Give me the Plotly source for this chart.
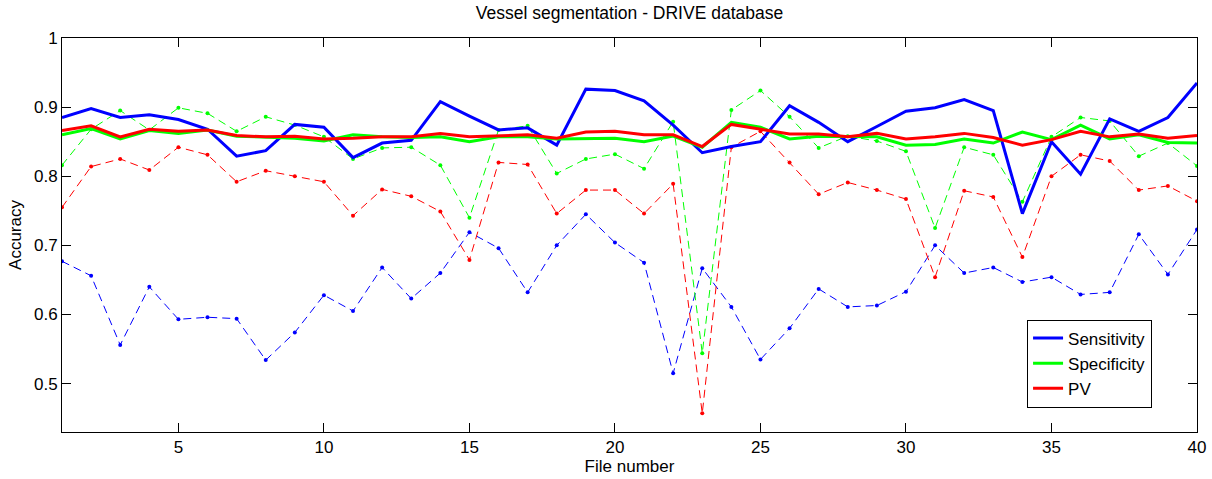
import plotly.graph_objects as go

file_number = list(range(1, 41))

sensitivity = [0.885, 0.898, 0.885, 0.889, 0.882, 0.868, 0.829, 0.837, 0.875, 0.871,
               0.827, 0.848, 0.852, 0.908, 0.887, 0.867, 0.870, 0.845, 0.926, 0.924,
               0.909, 0.874, 0.834, 0.843, 0.850, 0.902, 0.878, 0.850, 0.872, 0.894,
               0.899, 0.911, 0.895, 0.746, 0.850, 0.803, 0.883, 0.865, 0.885, 0.935]

specificity = [0.860, 0.869, 0.854, 0.866, 0.862, 0.867, 0.858, 0.857, 0.855, 0.851,
               0.860, 0.857, 0.856, 0.857, 0.850, 0.857, 0.857, 0.854, 0.855, 0.855,
               0.850, 0.858, 0.842, 0.878, 0.871, 0.854, 0.858, 0.857, 0.857, 0.845,
               0.846, 0.854, 0.848, 0.864, 0.853, 0.874, 0.854, 0.860, 0.849, 0.848]

pv = [0.866, 0.873, 0.857, 0.868, 0.865, 0.867, 0.859, 0.857, 0.858, 0.854,
      0.855, 0.857, 0.857, 0.862, 0.857, 0.859, 0.860, 0.855, 0.864, 0.865,
      0.860, 0.860, 0.843, 0.875, 0.868, 0.861, 0.861, 0.857, 0.862, 0.854,
      0.857, 0.862, 0.856, 0.845, 0.853, 0.865, 0.857, 0.861, 0.855, 0.859]

sensitivity_2 = [0.677, 0.656, 0.556, 0.640, 0.593, 0.596, 0.594, 0.534, 0.574, 0.628,
                 0.605, 0.668, 0.623, 0.660, 0.719, 0.696, 0.632, 0.700, 0.745, 0.704,
                 0.675, 0.515, 0.667, 0.611, 0.535, 0.580, 0.637, 0.611, 0.613, 0.633,
                 0.700, 0.660, 0.668, 0.647, 0.654, 0.629, 0.632, 0.716, 0.658, 0.723]

specificity_2 = [0.816, 0.868, 0.895, 0.867, 0.899, 0.891, 0.865, 0.886, 0.874, 0.857,
                 0.825, 0.841, 0.842, 0.816, 0.740, 0.867, 0.873, 0.804, 0.825, 0.832,
                 0.811, 0.879, 0.544, 0.896, 0.924, 0.886, 0.841, 0.858, 0.851, 0.836,
                 0.725, 0.842, 0.831, 0.763, 0.857, 0.885, 0.880, 0.829, 0.848, 0.815]

pv_2 = [0.755, 0.814, 0.825, 0.809, 0.842, 0.831, 0.792, 0.808, 0.800, 0.792,
        0.743, 0.781, 0.771, 0.749, 0.679, 0.820, 0.817, 0.746, 0.780, 0.780,
        0.746, 0.789, 0.457, 0.842, 0.865, 0.820, 0.774, 0.791, 0.780, 0.767,
        0.654, 0.779, 0.770, 0.683, 0.800, 0.831, 0.822, 0.780, 0.786, 0.764]

x_ticks = [5, 10, 15, 20, 25, 30, 35, 40]
y_ticks = [0.5, 0.6, 0.7, 0.8, 0.9, 1.0]
y_tick_labels = ["0.5", "0.6", "0.7", "0.8", "0.9", "1"]

BLUE = "#0000ff"
GREEN = "#00ff00"
RED = "#ff0000"
FONT = "Liberation Sans, Arial"

fig = go.Figure()

for vals, col in [(sensitivity_2, BLUE), (specificity_2, GREEN), (pv_2, RED)]:
    fig.add_trace(go.Scatter(
        x=file_number, y=vals, mode="lines+markers", showlegend=False,
        line=dict(color=col, width=1, dash="8px,5px"),
        marker=dict(color=col, size=4, symbol="circle"),
    ))

for vals, col, name in [(sensitivity, BLUE, "Sensitivity"),
                        (specificity, GREEN, "Specificity"),
                        (pv, RED, "PV")]:
    fig.add_trace(go.Scatter(
        x=file_number, y=vals, mode="lines", name=name,
        line=dict(color=col, width=3),
    ))

axis_common = dict(
    showline=True, linecolor="black", linewidth=1, mirror="ticks",
    ticks="inside", ticklen=9, tickcolor="black", tickwidth=1,
    showgrid=False, zeroline=False, automargin=False,
    tickfont=dict(family=FONT, size=17, color="black"),
)

fig.update_layout(
    width=1212, height=479,
    margin=dict(l=62, r=15, t=38, b=47, autoexpand=False),
    paper_bgcolor="white", plot_bgcolor="white",
    title=dict(text="Vessel segmentation - DRIVE database",
               x=0.5, xref="paper", xanchor="center",
               y=0.985, yref="container", yanchor="top",
               font=dict(family=FONT, size=17.5, color="black")),
    xaxis=dict(range=[1, 40], tickvals=x_ticks,
               title=dict(text="File number", standoff=3,
                          font=dict(family=FONT, size=17, color="black")),
               **axis_common),
    yaxis=dict(range=[0.43, 1.0], tickvals=y_ticks, ticktext=y_tick_labels,
               title=dict(text="Accuracy", standoff=8,
                          font=dict(family=FONT, size=17, color="black")),
               **axis_common),
    legend=dict(x=0.9604, xanchor="right", y=0.062, yanchor="bottom",
                bgcolor="white", bordercolor="black", borderwidth=1,
                font=dict(family=FONT, size=17, color="black"),
                tracegroupgap=0, itemwidth=30),
)

fig.write_html("out.html", config={"displayModeBar": False},
               post_script="document.body.style.margin='0';document.body.style.overflow='hidden';")
